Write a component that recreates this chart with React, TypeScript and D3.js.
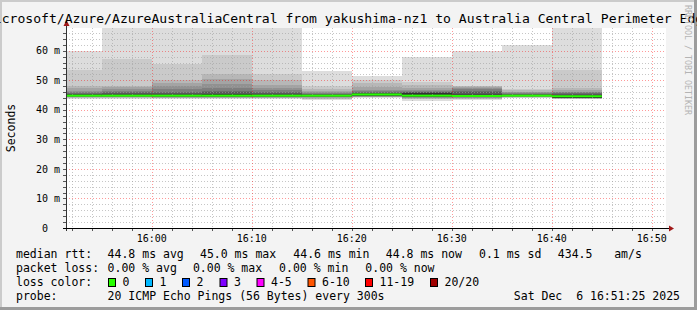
import React from "react";
import * as d3 from "d3";

const W = 697;
const H = 310;

const titleText =
  "Microsoft/Azure/AzureAustraliaCentral from yakushima-nz1 to Australia Central Perimeter Edge";

// 5-minute steps (start minute of each step)
const stepStarts = ["15:50", "15:55", "16:00", "16:05", "16:10", "16:15", "16:20", "16:25", "16:30", "16:35", "16:40"];
const stepLength = 5; // minutes

// 20 sorted ping RTTs (ms) per step
const pings0 = [43.8, 44.0, 44.1, 44.2, 44.3, 44.4, 44.5, 44.6, 44.6, 44.7, 45.0, 45.2, 45.4, 45.7, 46.0, 46.5, 47.4, 48.2, 53.5, 60.0];
const pings1 = [43.8, 44.0, 44.1, 44.2, 44.3, 44.4, 44.5, 44.6, 44.6, 44.7, 45.1, 45.3, 45.6, 46.0, 46.5, 47.0, 47.6, 48.2, 57.1, 72.0];
const pings2 = [43.8, 43.9, 44.0, 44.1, 44.2, 44.3, 44.4, 44.5, 44.6, 44.6, 45.1, 45.4, 45.8, 46.2, 47.0, 48.0, 49.0, 50.0, 55.5, 72.0];
const pings3 = [43.7, 43.9, 44.0, 44.1, 44.2, 44.3, 44.4, 44.5, 44.6, 44.6, 45.2, 45.5, 45.9, 46.4, 47.3, 48.7, 50.3, 52.0, 58.5, 72.0];
const pings4 = [43.8, 43.9, 44.0, 44.1, 44.2, 44.3, 44.4, 44.5, 44.6, 44.7, 45.1, 45.3, 45.6, 46.0, 46.6, 47.3, 48.5, 50.0, 52.0, 72.0];
const pings5 = [43.3, 43.6, 43.8, 44.0, 44.2, 44.3, 44.4, 44.5, 44.6, 44.7, 44.9, 45.0, 45.2, 45.4, 45.7, 46.0, 46.4, 47.1, 47.9, 53.0];
const pings6 = [44.0, 44.2, 44.3, 44.4, 44.5, 44.6, 44.7, 44.8, 44.8, 44.9, 45.4, 45.6, 45.8, 46.0, 46.3, 46.7, 47.6, 49.0, 50.0, 51.4];
const pings7 = [43.1, 43.5, 43.7, 43.9, 44.1, 44.2, 44.3, 44.4, 44.5, 44.6, 45.7, 45.8, 45.9, 46.1, 46.4, 46.8, 47.3, 48.3, 49.4, 58.0];
const pings8 = [43.3, 43.6, 43.8, 44.0, 44.1, 44.2, 44.3, 44.4, 44.5, 44.6, 45.1, 45.4, 45.9, 46.5, 47.1, 47.4, 47.6, 47.9, 48.2, 60.0];
const pings9 = [43.9, 44.1, 44.2, 44.3, 44.4, 44.5, 44.6, 44.6, 44.7, 44.7, 45.0, 45.1, 45.2, 45.4, 45.6, 45.9, 46.2, 46.6, 47.0, 62.0];
const pings10 = [43.6, 43.7, 43.8, 43.9, 43.9, 44.0, 44.0, 44.0, 44.0, 44.1, 44.9, 45.1, 45.3, 45.6, 45.9, 46.2, 46.7, 47.5, 53.5, 72.0];
const pingsByStep = [pings0, pings1, pings2, pings3, pings4, pings5, pings6, pings7, pings8, pings9, pings10];

const medians = [44.8, 44.8, 44.8, 44.8, 44.8, 44.8, 45.2, 44.8, 44.7, 44.8, 44.6];
const lossCounts = [0, 0, 0, 0, 0, 0, 0, 0, 0, 0, 0];

const smokeGrays = ["#dddddd", "#cacaca", "#b7b7b7", "#a4a4a4", "#919191", "#7e7e7e", "#6b6b6b", "#585858", "#454545", "#323232"];

const lossLabels = ["0", "1", "2", "3", "4-5", "6-10", "11-19", "20/20"];
const lossColors = ["#26ff00", "#00b8ff", "#0059ff", "#7e00ff", "#ff00ff", "#ff5500", "#ff0000", "#a00000"];
const lossSwatchX = [108, 145, 182, 219.5, 256.5, 307.5, 365, 430];

const yTicks = [0, 10, 20, 30, 40, 50, 60];
const yTickLabels = ["0", "10 m", "20 m", "30 m", "40 m", "50 m", "60 m"];
const xTickLabels = ["16:00", "16:10", "16:20", "16:30", "16:40", "16:50"];

const medianRow = [
  ["median rtt:", 16],
  ["44.8 ms avg", 107.6],
  ["45.0 ms max", 200],
  ["44.6 ms min", 293.3],
  ["44.8 ms now", 385.8],
  ["0.1 ms sd", 479],
  ["434.5", 557.8],
  ["am/s", 614.2],
] as [string, number][];
const lossRow = [
  ["packet loss:", 16],
  ["0.00 % avg", 107.6],
  ["0.00 % max", 192.9],
  ["0.00 % min", 279.1],
  ["0.00 % now", 365.3],
] as [string, number][];
const probeText = "20 ICMP Echo Pings (56 Bytes) every 300s";
const dateText = "Sat Dec  6 16:51:25 2025";

const toMin = (s: string) => {
  const p = s.split(":").map(Number);
  return p[0] * 60 + p[1] + (p[2] || 0) / 60;
};

const tStart = toMin("15:51:25");
const tEnd = toMin("16:51:25");
const yMax = 67.7;

const PL = 66, PR = 666, PT = 28, PB = 228;

export default function App() {
  const x = d3.scaleLinear().domain([tStart, tEnd]).range([PL, PR]);
  const y = d3.scaleLinear().domain([0, yMax]).range([PB, PT]);
  const swidth = yMax / (PB - PT);

  const minorX: number[] = [];
  for (let m = toMin("15:52"); m <= tEnd; m += 2) minorX.push(m);
  const minorY: number[] = [];
  for (let v = 0; v <= yMax; v += 2) minorY.push(v);

  const font = "'DejaVu Sans Mono', monospace";

  const lossColorFor = (c: number) => {
    if (c === 0) return lossColors[0];
    if (c <= 3) return lossColors[c];
    if (c <= 5) return lossColors[4];
    if (c <= 10) return lossColors[5];
    if (c <= 19) return lossColors[6];
    return lossColors[7];
  };

  const px = (v: number) => Math.round(v) + 0.5;

  return (
    <svg width={W} height={H} style={{ position: "absolute", left: 0, top: 0 }} fontFamily={font}>
      <defs>
        <clipPath id="plotclip">
          <rect x={PL} y={PT} width={PR - PL} height={PB - PT} />
        </clipPath>
      </defs>
      <rect x={0} y={0} width={W} height={H} fill="#f3f3f3" />
      {/* shade frame */}
      <rect x={0} y={0} width={W} height={2} fill="#cbcbcb" />
      <rect x={0} y={0} width={2} height={H} fill="#cbcbcb" />
      <rect x={0} y={H - 3} width={W} height={3} fill="#9c9c9c" />
      <rect x={W - 3} y={0} width={3} height={H} fill="#9c9c9c" />

      <rect x={PL} y={PT} width={PR - PL} height={PB - PT} fill="#ffffff" />

      <g clipPath="url(#plotclip)" shapeRendering="crispEdges">
        {pingsByStep.map((p, i) => {
          const t0 = toMin(stepStarts[i]);
          const x0 = x(t0);
          const x1 = x(t0 + stepLength);
          return smokeGrays.map((c, b) => (
            <rect
              key={`s${i}-${b}`}
              x={x0}
              width={x1 - x0}
              y={y(p[19 - b])}
              height={y(p[b]) - y(p[19 - b])}
              fill={c}
            />
          ));
        })}
      </g>

      {/* grid */}
      <g clipPath="url(#plotclip)" shapeRendering="crispEdges">
        {minorY.filter((v) => v % 10 !== 0).map((v) => (
          <line key={`my${v}`} x1={PL} x2={PR} y1={px(y(v))} y2={px(y(v))} stroke="#a0a0a0" strokeOpacity={0.6} strokeDasharray="1,2" />
        ))}
        {minorX.filter((m) => Math.round(m) % 10 !== 0).map((m) => (
          <line key={`mx${m}`} y1={PT} y2={PB} x1={px(x(m))} x2={px(x(m))} stroke="#a0a0a0" strokeOpacity={0.6} strokeDasharray="1,2" />
        ))}
        {yTicks.filter((v) => v > 0).map((v) => (
          <line key={`My${v}`} x1={PL} x2={PR} y1={px(y(v))} y2={px(y(v))} stroke="#ff0000" strokeOpacity={0.4} strokeDasharray="1,2" />
        ))}
        {xTickLabels.map((l) => (
          <line key={`Mx${l}`} y1={PT} y2={PB} x1={px(x(toMin(l)))} x2={px(x(toMin(l)))} stroke="#ff0000" strokeOpacity={0.4} strokeDasharray="1,2" />
        ))}
      </g>

      {/* median band */}
      <g clipPath="url(#plotclip)">
        {medians.map((m, i) => {
          const t0 = toMin(stepStarts[i]);
          const x0 = x(t0);
          const x1 = x(t0 + stepLength);
          return (
            <rect
              key={`med${i}`}
              x={x0}
              width={x1 - x0}
              y={y(m + swidth)}
              height={y(m - swidth) - y(m + swidth)}
              fill={lossColorFor(lossCounts[i])}
            />
          );
        })}
      </g>

      {/* ticks */}
      <g shapeRendering="crispEdges">
        {minorY.map((v) => (
          <line key={`ty${v}`} x1={PL - 3} x2={PL} y1={px(y(v))} y2={px(y(v))} stroke="#555" />
        ))}
        {minorX.map((m) => (
          <line key={`tx${m}`} y1={PB} y2={PB + 3} x1={px(x(m))} x2={px(x(m))} stroke="#555" />
        ))}

        {/* axes */}
        <line x1={PL + 0.5} x2={PL + 0.5} y1={PB + 3} y2={PT - 4} stroke="#333" />
        <line x1={PL - 3} x2={PR + 4} y1={PB + 0.5} y2={PB + 0.5} stroke="#000" />
      </g>
      <polygon points={`${PL - 2.5},${PT - 2} ${PL + 0.5},${PT - 8} ${PL + 3.5},${PT - 2}`} fill="#a01818" />
      <polygon points={`${PR + 3},${PB - 2.5} ${PR + 8},${PB + 0.5} ${PR + 3},${PB + 3.5}`} fill="#a01818" />

      {/* y labels */}
      {yTicks.map((v, i) => (
        <text key={`yl${v}`} x={v === 0 ? 42 : 60} y={y(v) + 3.6} fontSize={10} textAnchor={v === 0 ? "start" : "end"} fill="#000">
          {yTickLabels[i]}
        </text>
      ))}
      {xTickLabels.map((l) => (
        <text key={`xl${l}`} x={x(toMin(l))} y={241.7} fontSize={10} textAnchor="middle" fill="#000">
          {l}
        </text>
      ))}

      <text transform="translate(15,128) rotate(-90)" fontSize={11.5} textAnchor="middle" fill="#000">
        Seconds
      </text>

      <text x={W / 2} y={23.3} fontSize={13.1} textAnchor="middle" fill="#000">
        {titleText}
      </text>

      <text transform="translate(684.5,60) rotate(90)" fontSize={8.3} textAnchor="middle" fill="#b4b4b4">
        RRDTOOL / TOBI OETIKER
      </text>

      {/* legend */}
      <g fontSize={11.5} fill="#000">
        {medianRow.map(([t, p]) => (
          <text key={`mr${t}`} x={p} y={258.3}>{t}</text>
        ))}
        {lossRow.map(([t, p]) => (
          <text key={`lr${t}`} x={p} y={272.3}>{t}</text>
        ))}
        <text x={16} y={286.3}>loss color:</text>
        {lossLabels.map((l, i) => (
          <g key={`lc${l}`}>
            <rect x={lossSwatchX[i] + 0.5} y={278.5} width={7} height={8} fill={lossColors[i]} stroke="#000" strokeWidth={1} />
            <text x={lossSwatchX[i] + 14.5} y={286.3}>{l}</text>
          </g>
        ))}
        <text x={16} y={300}>probe:</text>
        <text x={107.6} y={300}>{probeText}</text>
        <text x={680} y={300} textAnchor="end" style={{ whiteSpace: "pre" }}>{dateText}</text>
      </g>
    </svg>
  );
}
